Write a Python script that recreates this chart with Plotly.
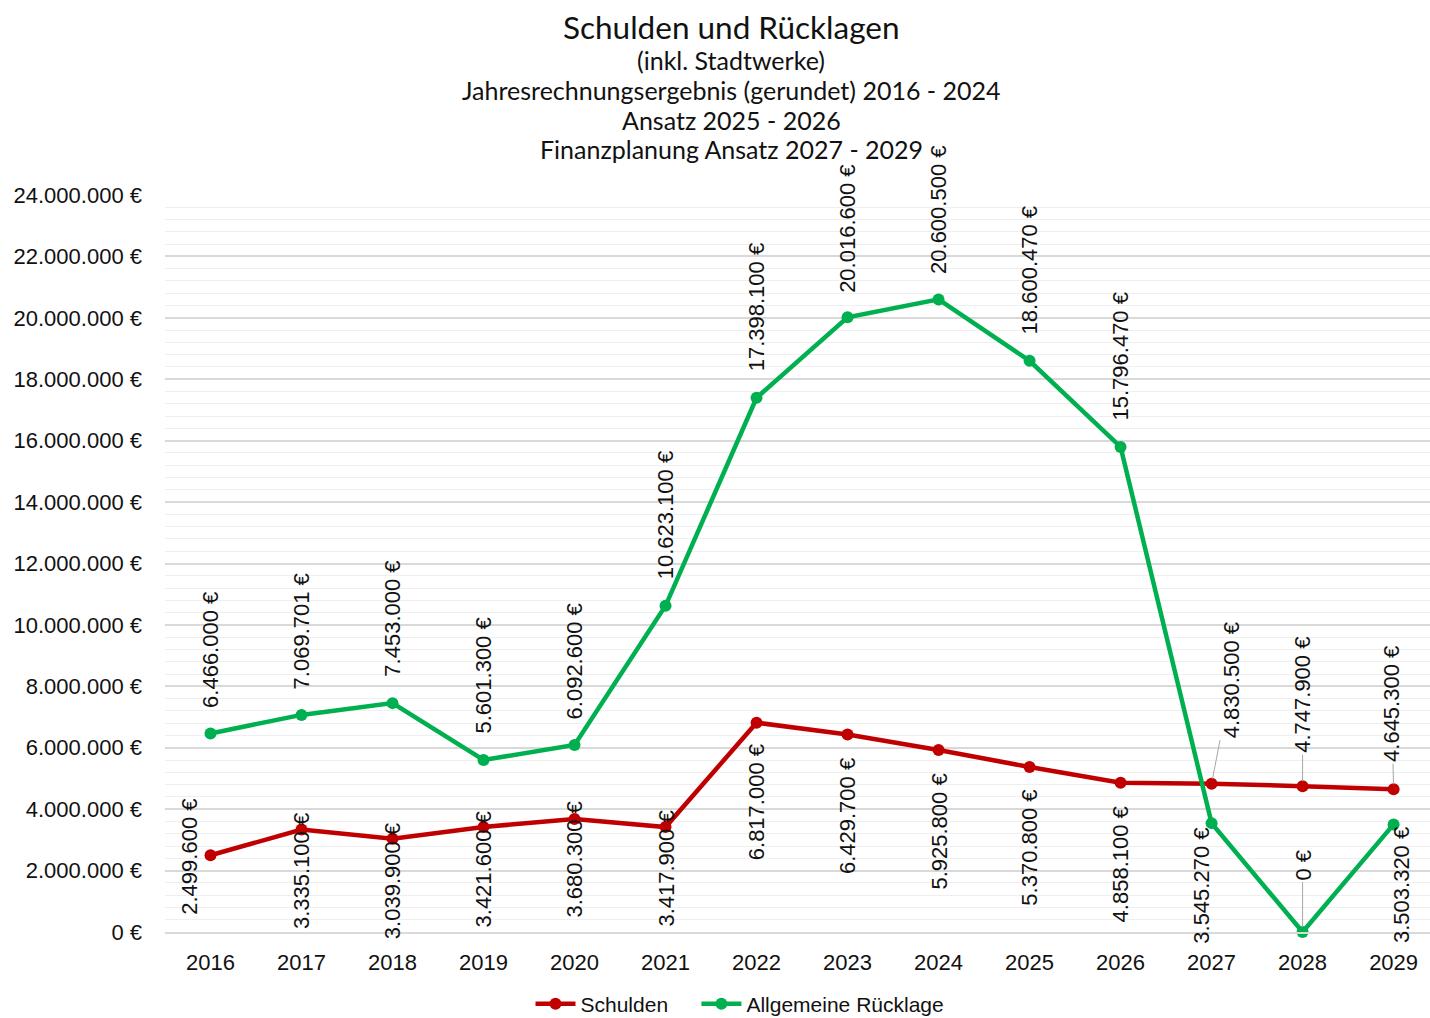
import plotly.graph_objects as go

years = ["2016", "2017", "2018", "2019", "2020", "2021", "2022",
         "2023", "2024", "2025", "2026", "2027", "2028", "2029"]
schulden = [2499600, 3335100, 3039900, 3421600, 3680300, 3417900, 6817000,
            6429700, 5925800, 5370800, 4858100, 4830500, 4747900, 4645300]
ruecklage = [6466000, 7069701, 7453000, 5601300, 6092600, 10623100, 17398100,
             20016600, 20600500, 18600470, 15796470, 3545270, 0, 3503320]
y_ticks = [0, 2000000, 4000000, 6000000, 8000000, 10000000, 12000000,
           14000000, 16000000, 18000000, 20000000, 22000000, 24000000]
title_lines = ["Schulden und Rücklagen", "(inkl. Stadtwerke)",
               "Jahresrechnungsergebnis (gerundet) 2016 - 2024",
               "Ansatz 2025 - 2026", "Finanzplanung Ansatz 2027 - 2029"]

# label placement (pixel offsets of label centre from point, leader flag)
red_off = [(-21, 2, 0), (0, 42, 0), (0, 43, 0), (0, 43, 0), (0, 41, 0), (0, 42, 0),
           (0, 80, 0), (0, 82, 0), (0, 82, 0), (0, 81, 0), (0, 82, 0),
           (20, -103, 1), (0, -91, 1), (-2, -85, 1)]
green_off = [(0, -83, 0), (0, -83, 0), (0, -84, 0), (0, -84, 0), (0, -83, 0), (0, -90, 0),
             (0, -90, 0), (0, -88, 0), (0, -89, 0), (0, -90, 0), (0, -90, 0),
             (-10, 63, 0), (0, -67, 1), (8, 61, 0)]

RED = "#C00000"
GREEN = "#00B050"
LABEL_FONT = "Liberation Sans"
TITLE_FONT = "Lato"


def eur(v):
    return f"{v:,}".replace(",", ".") + " €"


fig = go.Figure()
fig.add_trace(go.Scatter(x=years, y=schulden, name="Schulden" + "\u00a0" * 4,
                         mode="lines+markers",
                         line=dict(color=RED, width=4.5), marker=dict(size=12, color=RED),
                         cliponaxis=False))
fig.add_trace(go.Scatter(x=years, y=ruecklage, name="Allgemeine Rücklage", mode="lines+markers",
                         line=dict(color=GREEN, width=4.5), marker=dict(size=12, color=GREEN),
                         cliponaxis=False))

annotations = []
for vals, offs in ((schulden, red_off), (ruecklage, green_off)):
    for i, (v, (dx, dy, lead)) in enumerate(zip(vals, offs)):
        annotations.append(dict(
            x=i, y=v, xref="x", yref="y", text=eur(v), textangle=-90,
            showarrow=True, ax=dx, ay=dy, arrowhead=0, arrowwidth=1,
            arrowcolor="#A6A6A6" if lead else "rgba(0,0,0,0)", standoff=5,
            font=dict(family=LABEL_FONT, size=22, color="#111111")))

PLOT_BOTTOM = 932
PLOT_H = 737


def py(pix):
    return (PLOT_BOTTOM - pix) / PLOT_H


title_y = [27, 60, 90, 120, 149]
title_sz = [31.5, 25, 25, 25, 25]
for txt, yy, sz in zip(title_lines, title_y, title_sz):
    annotations.append(dict(x=(731 - 165) / 1265, y=py(yy), xref="paper", yref="paper",
                            text=txt, showarrow=False, xanchor="center", yanchor="middle",
                            font=dict(family=TITLE_FONT, size=sz, color="#111111")))

fig.update_layout(
    width=1430, height=1018,
    margin=dict(l=165, r=0, t=195, b=86),
    paper_bgcolor="white", plot_bgcolor="white",
    annotations=annotations,
    showlegend=True,
    legend=dict(orientation="h", xref="container", yref="container",
                x=740 / 1430, y=1 - 1004 / 1018, xanchor="center", yanchor="middle",
                font=dict(family=LABEL_FONT, size=21, color="#111111"),
                itemwidth=40),
    xaxis=dict(type="category", range=[-0.5, 13.4], showgrid=False,
               showline=True, linecolor="#D9D9D9", linewidth=1.5, ticks="",
               tickfont=dict(family=LABEL_FONT, size=22, color="#111111"),
               ticklabelstandoff=10, fixedrange=True),
    yaxis=dict(range=[0, 24000000], tickvals=y_ticks, ticktext=[eur(v) for v in y_ticks],
               showgrid=True, gridcolor="#D9D9D9", gridwidth=1.5, zeroline=False,
               ticks="", ticklabelstandoff=22,
               tickfont=dict(family=LABEL_FONT, size=22, color="#111111"),
               minor=dict(dtick=400000, tick0=0, showgrid=True, gridcolor="#EFEFEF", gridwidth=1.2),
               fixedrange=True),
)

fig.write_html("out.html", config={"displayModeBar": False},
               post_script="document.body.style.margin='0';")
